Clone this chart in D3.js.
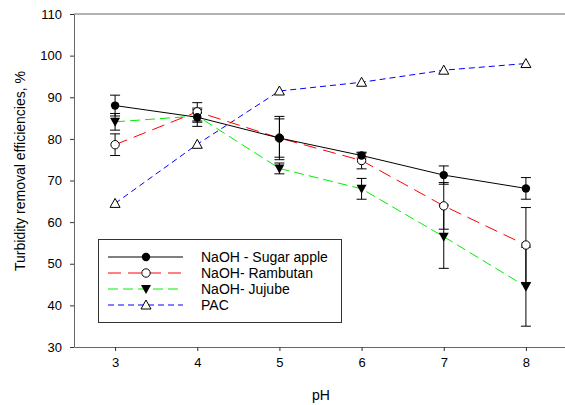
<!DOCTYPE html>
<html lang="en">
<head>
<meta charset="UTF-8">
<title>Turbidity removal vs pH</title>
<script src="https://cdn.jsdelivr.net/npm/d3@7/dist/d3.min.js"></script>
<style>
  body { margin: 0; background: #fff; }
  svg { font-family: "Liberation Sans", Arial, sans-serif; }
</style>
</head>
<body>
<svg id="chart" width="565" height="405"></svg>
<script>
// data
var ph = [3, 4, 5, 6, 7, 8];
var sugarApple    = [88.0, 85.2, 80.2, 76.0, 71.3, 68.1];
var sugarAppleErr = [2.5, 2.2, 4.6, 0.6, 2.2, 2.6];
var rambutan      = [78.6, 86.5, 80.2, 74.8, 63.9, 54.5];
var rambutanErr   = [2.6, 2.2, 5.2, 2.0, 5.6, 9.0];
var jujube        = [84.1, 85.5, 72.9, 68.0, 56.5, 44.5];
var jujubeErr     = [2.0, 1.5, 1.3, 2.5, 7.6, 9.5];
var pac           = [64.5, 78.7, 91.5, 93.6, 96.5, 98.1];
var yTicks = [30, 40, 50, 60, 70, 80, 90, 100, 110];

var series = [
  {name: "NaOH - Sugar apple", v: sugarApple, e: sugarAppleErr, color: "#000", dash: null, marker: "fillCircle"},
  {name: "NaOH- Rambutan", v: rambutan, e: rambutanErr, color: "#ff0000", dash: "13,7", marker: "openCircle"},
  {name: "NaOH- Jujube", v: jujube, e: jujubeErr, color: "#00ee00", dash: "10,5", marker: "downTri"},
  {name: "PAC", v: pac, e: null, color: "#0000ff", dash: "6,4", marker: "upTri"}
];

var svg = d3.select("#chart");
var x = d3.scaleLinear().domain([2.5, 8.5]).range([74, 567]);
var y = d3.scaleLinear().domain([30, 110]).range([347, 14]);

// frame
svg.append("line").attr("x1", 74).attr("x2", 567).attr("y1", 14).attr("y2", 14)
  .attr("stroke", "#666").attr("stroke-width", 1);

var xAxis = svg.append("g").attr("transform", "translate(0,347)")
  .call(d3.axisBottom(x).tickValues(ph).tickSize(4).tickPadding(7).tickSizeOuter(0).tickFormat(d3.format("d")));
var yAxis = svg.append("g").attr("transform", "translate(74,0)")
  .call(d3.axisLeft(y).tickValues(yTicks).tickSize(4).tickPadding(8).tickSizeOuter(0));
[xAxis, yAxis].forEach(function(g) {
  g.select(".domain").attr("stroke", "#666");
  g.selectAll(".tick line").attr("stroke", "#333");
  g.selectAll(".tick text").attr("font-size", 13).attr("fill", "#000")
    .attr("font-family", "'Liberation Sans', Arial, sans-serif");
});

svg.append("text").attr("x", 321).attr("y", 400).attr("text-anchor", "middle")
  .attr("font-size", 14).text("pH");
svg.append("text").attr("transform", "translate(25,171) rotate(-90)")
  .attr("text-anchor", "middle").attr("font-size", 14)
  .text("Turbidity removal efficiencies, %");

function drawMarker(g, type, cx, cy) {
  if (type == "fillCircle") {
    g.append("circle").attr("cx", cx).attr("cy", cy).attr("r", 4.2).attr("fill", "#000");
  } else if (type == "openCircle") {
    g.append("circle").attr("cx", cx).attr("cy", cy).attr("r", 4.2)
      .attr("fill", "#fff").attr("stroke", "#000").attr("stroke-width", 1);
  } else if (type == "downTri") {
    g.append("path").attr("d", "M" + (cx - 5) + "," + (cy - 4) + "L" + (cx + 5) + "," + (cy - 4) + "L" + cx + "," + (cy + 5) + "Z")
      .attr("fill", "#000");
  } else {
    g.append("path").attr("d", "M" + (cx - 5) + "," + (cy + 4) + "L" + (cx + 5) + "," + (cy + 4) + "L" + cx + "," + (cy - 5) + "Z")
      .attr("fill", "#fff").attr("stroke", "#000").attr("stroke-width", 1);
  }
}

var line = d3.line().x(function(d, i) { return x(ph[i]); }).y(function(d) { return y(d); });

// lines
series.slice().reverse().forEach(function(s) {
  svg.append("path").datum(s.v).attr("d", line).attr("fill", "none")
    .attr("stroke", s.color).attr("stroke-width", 1)
    .attr("stroke-dasharray", s.dash);
});

// error bars
series.forEach(function(s) {
  if (!s.e) return;
  s.v.forEach(function(v, i) {
    var cx = x(ph[i]), top = y(v + s.e[i]), bot = y(v - s.e[i]);
    svg.append("line").attr("x1", cx).attr("x2", cx).attr("y1", top).attr("y2", bot)
      .attr("stroke", "#000").attr("stroke-width", 1);
    [top, bot].forEach(function(yy) {
      svg.append("line").attr("x1", cx - 5).attr("x2", cx + 5).attr("y1", yy).attr("y2", yy)
        .attr("stroke", "#000").attr("stroke-width", 1);
    });
  });
});

// markers
series.slice().reverse().forEach(function(s) {
  var g = svg.append("g");
  s.v.forEach(function(v, i) { drawMarker(g, s.marker, x(ph[i]), y(v)); });
});

// legend
var lg = svg.append("g");
lg.append("rect").attr("x", 98.5).attr("y", 239.5).attr("width", 243).attr("height", 83)
  .attr("fill", "#fff").attr("stroke", "#333").attr("stroke-width", 1);
series.forEach(function(s, i) {
  var ly = 257 + i * 16;
  lg.append("line").attr("x1", 108).attr("x2", 183).attr("y1", ly).attr("y2", ly)
    .attr("stroke", s.color).attr("stroke-width", 1).attr("stroke-dasharray", s.dash);
  drawMarker(lg, s.marker, 146, ly);
  lg.append("text").attr("x", 201).attr("y", ly + 5).attr("font-size", 14).text(s.name);
});
</script>
</body>
</html>
